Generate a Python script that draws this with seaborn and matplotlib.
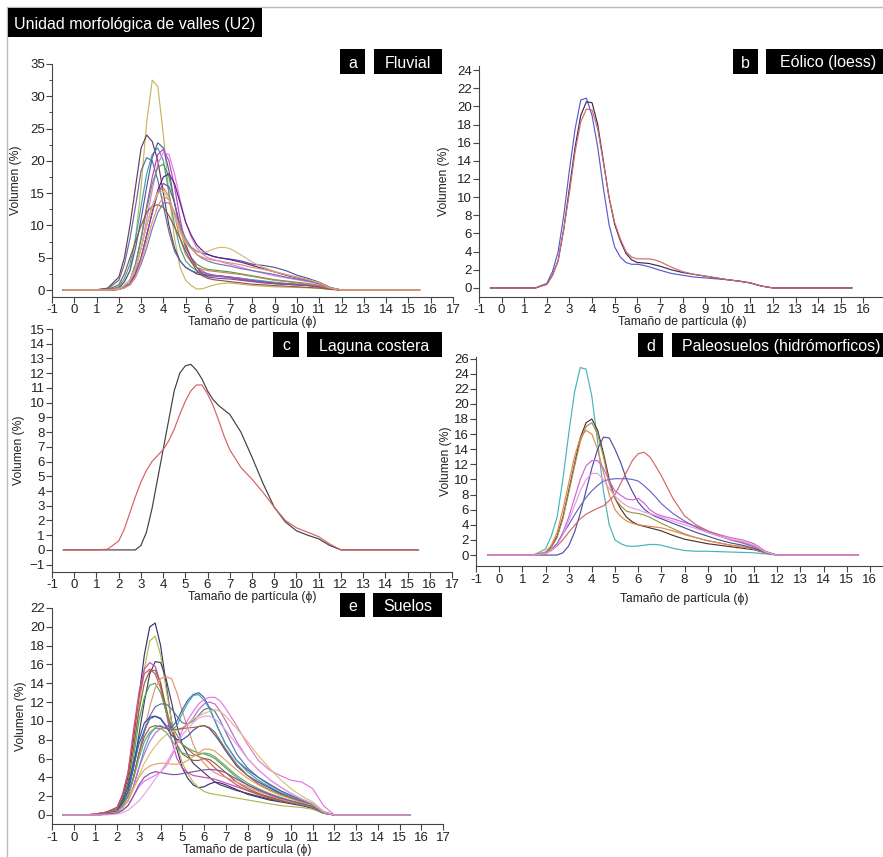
import matplotlib
matplotlib.use("Agg")
import matplotlib.pyplot as plt
from matplotlib.patches import Rectangle
import seaborn as sns

# Grain-size classes (phi) shared by every distribution curve
phi = [-0.5, 0.5, 1, 1.5, 2, 2.25, 2.5, 2.75, 3, 3.25, 3.5, 3.75, 4, 4.25, 4.5, 4.75, 5,
       5.25, 5.5, 5.75, 6, 6.25, 6.5, 6.75, 7, 7.5, 8, 8.5, 9, 9.5, 10, 10.5, 11, 11.5, 12, 15.5]

# a) Fluvial samples, volume (%)
fluvial = [
    [0,0,0,0.05,0.3,1.2,3,8,16,26,32.5,31.5,24,15,8,3.5,1.5,0.7,0.15,0.2,0.5,0.75,0.95,1.05,1.1,0.9,0.7,0.6,0.5,0.45,0.4,0.35,0.3,0.1,0,0],
    [0,0,0.05,0.3,2,5,10,16,22,24,23,20,15,10,6.5,4.5,3.5,3.0,2.5,2.3,2.2,2.2,2.2,2.1,2.0,1.8,1.5,1.3,1.1,1.0,0.9,0.8,0.6,0.2,0,0],
    [0,0,0,0.2,1.5,4,8,13,18.5,20.5,20,17,13,9,6,4.5,3.5,3.0,2.7,2.5,2.3,2.2,2.1,2.0,1.9,1.6,1.4,1.2,1.0,0.9,0.8,0.7,0.5,0.2,0,0],
    [0,0,0,0,0.5,1.8,4,8,13,18,21,22,20,15,10,6.5,4.5,3.6,3,2.7,2.5,2.3,2.2,2.1,2.0,1.8,1.6,1.4,1.2,1.0,0.9,0.8,0.6,0.2,0,0],
    [0,0,0,0,0.3,1.3,3,6.5,11,16,20.5,22.8,22,18.5,13.5,9.5,7.5,6.6,6,5.7,5.5,5.2,5,4.9,4.8,4.5,4,3.8,3.5,3,2.3,1.8,1.2,0.4,0,0],
    [0,0,0,0,0.1,0.6,1.5,4,8,13,17.5,21,21.8,20,16,11,7,4.8,3.5,2.9,2.5,2.3,2.2,2.1,2.0,1.7,1.4,1.2,1.0,0.9,0.8,0.7,0.5,0.2,0,0],
    [0,0,0,0,0.1,0.4,1,3,6.5,11,15.5,19.5,21.3,21,18,14,10.5,8.2,6.5,5.6,5,4.7,4.5,4.2,4,3.5,3,2.6,2.2,1.9,1.6,1.3,0.9,0.3,0,0],
    [0,0,0,0,0.2,0.7,1.5,4,8,12.5,16.5,19,19.5,17.5,13.5,9.5,6.5,5.0,4,3.5,3.2,3.1,3,2.9,2.8,2.5,2.2,1.9,1.6,1.4,1.2,1,0.7,0.2,0,0],
    [0,0,0,0,0.1,0.4,1,2.5,5,8.5,12,15.5,17.5,18,16.5,13.5,10.5,8.5,7,6.1,5.5,5.2,5,4.85,4.7,4.3,3.8,3.3,2.8,2.3,1.9,1.5,1.0,0.3,0,0],
    [0,0,0,0,0.1,0.4,1,2.5,5,8.5,12,15,16.5,16,13.5,10,7,5.0,3.5,2.5,2,1.9,1.8,1.75,1.7,1.5,1.3,1.1,1,0.9,0.8,0.7,0.5,0.2,0,0],
    [0,0,0,0,0.2,0.7,1.5,3.5,6.5,10,13,15.2,15.8,14.5,11.5,8,5.5,4.3,3.5,3.2,3,2.9,2.8,2.7,2.6,2.4,2.1,1.8,1.5,1.3,1.1,0.9,0.7,0.2,0,0],
    [0,0,0,0.1,0.8,2.5,5,7.5,10,12,13,13.2,12.8,11.5,9.8,8,6,4.4,3,2.2,1.8,1.6,1.5,1.4,1.3,1.1,0.9,0.8,0.7,0.6,0.5,0.4,0.3,0.1,0,0],
    [0,0,0,0,0.1,0.35,0.8,2,4,6.5,9.5,12,13.5,13.5,12,10,8,6.6,5.5,4.9,4.5,4.2,4,3.85,3.7,3.3,3,2.7,2.4,2,1.7,1.4,1,0.3,0,0],
    [0,0,0,0,0.2,0.7,1.5,3.5,6.5,10,13,15,15.3,14,11.5,9,7.2,6.4,5.9,5.8,6.0,6.35,6.6,6.6,6.4,5.4,4.3,3.5,2.9,2.4,2,1.6,1.1,0.3,0,0],
    [0,0,0,0,0.1,0.35,0.8,2,4.5,7.5,10.5,13,14.5,14,12,9.5,7.5,6.4,5.5,5.1,4.8,4.6,4.5,4.35,4.2,3.9,3.5,3.2,2.8,2.4,2,1.6,1.1,0.3,0,0],
]

# b) Eolian (loess) samples
eolico = [
    [0,0,0,0,0.5,1.8,4,8,13,17.5,20.7,20.9,19,15.5,11,7,4.5,3.4,2.8,2.6,2.6,2.5,2.35,2.15,1.95,1.6,1.4,1.2,1.1,1.0,0.9,0.75,0.55,0.2,0,0],
    [0,0,0,0,0.4,1.4,3,6.5,11,15.5,19,20.5,20.4,18,14,10,7,5.2,3.8,3.1,2.8,2.75,2.7,2.55,2.4,2,1.7,1.5,1.3,1.1,0.9,0.75,0.55,0.2,0,0],
    [0,0,0,0,0.4,1.4,3,6.5,10.5,15,18.3,19.7,19.6,17.5,13.8,10,7.2,5.4,4,3.4,3.2,3.2,3.2,3.1,2.9,2.3,1.8,1.5,1.3,1.1,0.9,0.75,0.55,0.2,0,0],
]

# c) Coastal lagoon samples
laguna = [
    [0,0,0,0,0,0,0,0,0.3,1.2,2.8,4.8,6.8,8.8,10.8,12,12.5,12.6,12.2,11.6,10.8,10.2,9.8,9.5,9.2,8,6.3,4.5,2.9,1.9,1.3,1.0,0.75,0.3,0,0],
    [0,0,0,0.05,0.6,1.4,2.5,3.6,4.6,5.4,6.0,6.4,6.8,7.4,8.2,9.2,10.1,10.8,11.2,11.2,10.6,9.8,8.8,7.7,6.8,5.6,4.8,3.9,2.9,2.0,1.5,1.2,0.9,0.4,0,0],
]

# d) Hydromorphic paleosol samples
paleosuelos = [
    [0,0,0,0,0.8,2.5,5,10,16,21.5,24.8,24.6,21,15,8.5,4,2,1.5,1.2,1.15,1.2,1.3,1.4,1.4,1.3,0.9,0.6,0.5,0.5,0.45,0.4,0.35,0.3,0.15,0,0],
    [0,0,0,0.05,0.3,1.1,2.5,5,8.5,12,15.5,17.5,18,16.5,13.5,10,7.5,6.1,5,4.4,4,3.8,3.6,3.4,3.2,2.6,2.1,1.8,1.5,1.3,1.1,0.9,0.7,0.3,0,0],
    [0,0,0,0.05,0.3,1.0,2.3,4.8,8.2,11.7,15,17,17.5,16,13,9.5,7.5,6.5,5.8,5.6,5.5,5.3,5,4.6,4.2,3.5,2.8,2.3,1.9,1.6,1.3,1.1,0.8,0.3,0,0],
    [0,0,0,0.05,0.4,1.3,3,6,9.5,13,15.5,16.5,16,14,11,8,6,5.1,4.5,4.2,4,3.9,3.8,3.7,3.6,3.2,2.7,2.3,1.9,1.6,1.3,1.1,0.8,0.3,0,0],
    [0,0,0,0,0,0,0,0.3,1.2,3,5.5,8.5,11.5,14,15.6,15.5,14,12.2,10,8.4,7,6.1,5.5,5.1,4.8,4.2,3.6,3,2.5,2,1.6,1.3,0.9,0.35,0,0],
    [0,0,0,0,0.2,0.7,1.5,3,5,7.5,10,11.8,12.5,12.5,11.5,9.8,8.5,7.9,7.4,7.3,7.5,6.9,6,5.5,5.2,4.8,4.3,3.8,3.2,2.7,2.3,2,1.5,0.5,0,0],
    [0,0,0,0,0.2,0.7,1.5,2.8,4,5.3,6.5,7.6,8.5,9.2,9.8,10,10.1,10.1,10.1,10.0,9.8,9.2,8.5,7.7,6.8,5.5,4.5,3.7,3,2.5,2,1.6,1.1,0.4,0,0],
    [0,0,0,0,0.2,0.6,1.2,2,3,3.9,4.8,5.4,5.8,6.2,6.5,7.2,8,9.5,11,12.5,13.4,13.6,13,11.8,10.5,7.5,5.2,4,3.2,2.6,2,1.7,1.2,0.4,0,0],
    [0,0,0,0,0.2,0.6,1.3,2.7,4.5,6.5,8.5,10,10.8,10.8,10,8.8,7.8,7.1,6.5,6.2,6,5.7,5.5,5.25,5,4.5,4,3.5,3,2.5,2.1,1.8,1.3,0.4,0,0],
]

# e) Soil samples
suelos = [
    [0,0,0.1,0.3,0.8,2,4,8,12.5,17,20,20.4,18,14,10,7,5,3.9,3.2,2.9,3,3.3,3.5,3.4,3.2,2.7,2.2,1.9,1.6,1.4,1.2,1.0,0.7,0.2,0,0],
    [0,0,0.1,0.2,0.6,1.7,3.5,7,11.5,15.5,18.5,19,17,13.5,10,7.5,5.5,4.4,3.5,2.9,2.5,2.3,2.2,2.1,2,1.8,1.6,1.4,1.2,1.0,0.9,0.8,0.6,0.2,0,0],
    [0,0,0,0.1,0.4,1.2,2.5,5,8.5,12,15,16.3,16.2,14.5,12,9.5,7.5,6.4,5.5,5.0,4.5,4.0,3.5,3.2,3,2.6,2.3,2,1.7,1.5,1.3,1.1,0.8,0.2,0,0],
    [0,0,0.1,0.3,0.8,2.2,4.5,9,13,15.5,16.2,15.8,14,11,8,6,5,4.5,4.2,4.1,4,3.9,3.8,3.6,3.4,3,2.6,2.2,1.9,1.6,1.4,1.2,0.9,0.3,0,0],
    [0,0,0.1,0.3,0.8,2.2,4.5,8.5,12.5,15,15.5,15,13.5,11,9,8,7.5,7.0,6.5,6.2,6,5.6,5,4.5,4,3.2,2.6,2.2,1.8,1.5,1.3,1.1,0.8,0.2,0,0],
    [0,0,0,0.2,0.6,1.7,3.5,7,11,14,15.3,15.4,14,11.5,9,7.5,6.5,6.1,5.8,5.8,6,5.9,5.5,5.0,4.5,3.5,2.8,2.3,1.9,1.6,1.3,1.1,0.8,0.2,0,0],
    [0,0,0,0.1,0.5,1.5,3,6,10,12.5,13.8,14,13,11,9.5,8.5,7.5,7.1,6.8,6.6,6.5,6.3,6,5.5,5,4,3.2,2.6,2.1,1.7,1.4,1.1,0.8,0.2,0,0],
    [0,0,0,0.1,0.4,1.0,2,4,6.5,9,11.5,13.5,14.5,14.7,14.5,13,11,9.3,7.5,6.3,5.5,4.9,4.5,4.2,4,3.5,3,2.5,2.1,1.7,1.4,1.2,0.9,0.3,0,0],
    [0,0,0,0.1,0.4,1.2,2.5,5,7.5,9,10.2,10.5,10.3,9.5,9.3,10,11.2,12.2,12.8,13.0,12.5,11.4,10,8.7,7.5,5.8,4.8,4,3.3,2.6,2,1.5,1.1,0.3,0,0],
    [0,0,0,0.1,0.3,0.8,1.5,3,5,7,8.5,9.3,9.5,9.2,9,9.5,10.8,11.9,12.7,12.8,12.2,11.3,10,8.7,7.5,5.8,4.6,3.7,3,2.4,1.9,1.5,1.1,0.3,0,0],
    [0,0,0,0.1,0.2,0.5,1,2,3,3.6,3.9,4.2,4.6,5.2,6.2,7.5,9,10.1,11,11.8,12.3,12.5,12.5,12.1,11.3,9.5,7.5,5.8,4.8,4.2,3.7,3.5,2.8,1.0,0,0],
    [0,0,0,0.1,0.3,0.8,1.5,3,5,6.5,7.8,8.7,9.2,9.3,9.1,9,9.2,9.6,10.3,11.2,11.8,12.0,11.8,11.0,10,7.8,6,4.8,3.8,3,2.3,1.7,1.2,0.3,0,0],
    [0,0,0,0.1,0.3,1.0,2,4,6.5,8.8,10.5,11.5,11.8,11.8,11.3,10.5,9.8,9.7,10,10.6,11.2,11.4,11,10.0,8.8,6.5,5,4,3.2,2.6,2.1,1.6,1.2,0.3,0,0],
    [0,0,0,0.1,0.3,0.8,1.5,2.8,4.2,5.5,6.5,7.3,8,8.5,8.8,9,9.3,9.7,10.2,10.5,10.8,11.0,11.2,11.0,10.5,9.2,7.8,6.3,5,3.8,2.8,2,1.4,0.4,0,0],
    [0,0,0,0.1,0.4,1.5,3,5.5,8,9.8,10.4,10.5,10.2,9.4,8.5,8,8,8.4,9,9.4,9.5,9.2,8.5,7.7,6.8,5.2,4.2,3.5,2.9,2.3,1.8,1.4,1,0.3,0,0],
    [0,0,0,0.1,0.3,1.0,2,4,6.5,8.3,9.3,9.5,9.4,9.2,9.1,9.1,9.2,9.25,9.3,9.4,9.5,9.3,8.8,7.9,7,5.4,4.2,3.3,2.7,2.2,1.8,1.4,1,0.3,0,0],
    [0,0,0,0.1,0.3,1.0,2,3.8,6,7.8,8.8,9.2,9.2,8.8,8,7.2,6.6,6.4,6.3,6.4,6.6,6.5,6.2,5.7,5.2,4.2,3.4,2.8,2.3,1.9,1.5,1.2,0.9,0.3,0,0],
    [0,0,0,0.1,0.3,0.8,1.5,2.8,4,4.8,5.2,5.4,5.5,5.5,5.4,5.4,5.5,5.8,6.2,6.6,7,7.0,6.8,6.3,5.8,4.8,3.9,3.2,2.6,2.1,1.7,1.3,1,0.3,0,0],
    [0,0,0,0.1,0.2,0.5,1,2,3.2,4,4.4,4.6,4.5,4.4,4.3,4.3,4.4,4.5,4.6,4.7,4.8,4.85,4.8,4.7,4.5,3.8,3.2,2.7,2.2,1.8,1.5,1.2,0.9,0.3,0,0],
    [0,0,0,0,0.1,0.25,0.5,1,1.5,2.2,3,3.8,4.6,5.5,6.5,7.5,8.5,9.2,9.8,10.3,10.5,10.5,10.2,9.7,9,7.5,6,4.8,3.8,3,2.3,1.7,1.2,0.3,0,0],
]

x_ticks = list(range(-1, 18))
title = "Unidad morfológica de valles (U2)"
xlabel = "Tamaño de partícula (ϕ)"
ylabel = "Volumen (%)"

# ---- line colours for each panel ----
col_a = ["#c9b55e", "#6b3a5c", "#5b6f9e", "#3fa3a3", "#4a5bab", "#c03fc0", "#e27ae2",
         "#4f9f4f", "#5e2384", "#8a46a8", "#c98352", "#8c5c40", "#6a7bb3", "#d9b77a", "#e29375"]
col_b = ["#5a5ad0", "#3a2a4a", "#d46a6a"]
col_c = ["#404040", "#d86060"]
col_d = ["#45b5b5", "#553232", "#a39245", "#e0884a", "#4e4ea2", "#d462d4", "#6868c8", "#d46565", "#e59ae5"]
col_e = ["#33336f", "#b6b652", "#424262", "#d244c4", "#d45454", "#8d6242", "#55a555", "#e39474",
         "#4263b3", "#42a4b4", "#e674e6", "#c466d4", "#6272a2", "#d4c472", "#3352a2", "#a36442",
         "#72a472", "#e4a464", "#8452a4", "#e4a4e4"]

W, H = 883, 857
sns.set_theme(style="ticks")
plt.rcParams["font.family"] = ["Liberation Sans", "DejaVu Sans"]
plt.rcParams["axes.edgecolor"] = "#444444"
plt.rcParams["xtick.color"] = "#444444"
plt.rcParams["ytick.color"] = "#444444"
plt.rcParams["lines.solid_joinstyle"] = "round"

fig = plt.figure(figsize=(W / 100, H / 100), dpi=100)
fig.patch.set_facecolor("white")


def px_axes(x0, x1, top, bottom):
    return fig.add_axes([x0 / W, 1 - bottom / H, (x1 - x0) / W, (bottom - top) / H])


def black_box(x0, y0, x1, y1, text, size):
    fig.patches.append(Rectangle((x0 / W, 1 - y1 / H), (x1 - x0) / W, (y1 - y0) / H,
                                 transform=fig.transFigure, facecolor="black",
                                 edgecolor="none", zorder=5))
    fig.text((x0 + x1) / 2 / W, 1 - (y0 + y1) / 2 / H, text, color="white",
             fontsize=size, ha="center", va="center_baseline", zorder=6)


def panel(box, ylim, yticks, curves, colors, ylab_x, xlab_pad, minor=None, last_label=True):
    x0, x1, top, bottom = box
    ax = px_axes(x0, x1, top, bottom)
    ax.set_facecolor("none")
    for vals, c in zip(curves, colors):
        sns.lineplot(x=phi, y=vals, color=c, lw=0.85, ax=ax, legend=False)
    ax.set_xlim(-1, 17)
    ax.set_ylim(*ylim)
    ax.set_xticks(x_ticks)
    labels = [str(t) for t in x_ticks]
    if not last_label:
        labels[-1] = ""
    ax.set_xticklabels(labels)
    ax.set_yticks(yticks)
    if minor is not None:
        ax.set_yticks(minor, minor=True)
        ax.tick_params(axis="y", which="minor", length=2.5, width=0.7, direction="out")
    ax.tick_params(axis="both", which="major", length=4, width=0.8, direction="out",
                   labelsize=9.5, pad=1.2, labelcolor="#222222")
    for s in ("top", "right"):
        ax.spines[s].set_visible(False)
    for s in ("left", "bottom"):
        ax.spines[s].set_linewidth(0.8)
    ax.set_xlabel(xlabel, fontsize=8.7, labelpad=xlab_pad, color="#222222")
    ax.set_ylabel(ylabel, fontsize=8.7, color="#222222")
    ax.yaxis.set_label_coords((ylab_x - x0) / (x1 - x0), 0.5)
    return ax


panel((52, 453, 64, 296.5), (-1, 35), list(range(0, 36, 5)), fluvial, col_a, 22, 0,
      minor=[2.5 + 5 * i for i in range(7)])
panel((479, 886, 65.5, 297), (-1, 24.5), list(range(0, 25, 2)), eolico, col_b, 450, 0,
      last_label=False)
panel((52, 452, 329, 572), (-1.5, 15), list(range(-1, 16)), laguna, col_c, 25, 0)
panel((476, 893, 357, 566.4), (-1.5, 26.2), list(range(0, 27, 2)), paleosuelos, col_d, 452, 5,
      last_label=False)
panel((52, 443, 608, 824.4), (-1, 22), list(range(0, 23, 2)), suelos, col_e, 27, 0)

# figure frame
fig.add_artist(plt.Line2D([7 / W, 1], [1 - 7 / H, 1 - 7 / H], transform=fig.transFigure,
                          color="#bbbbbb", lw=1))
fig.add_artist(plt.Line2D([7 / W, 7 / W], [0, 1 - 7 / H], transform=fig.transFigure,
                          color="#bbbbbb", lw=1))

black_box(8, 8, 262, 37, title, 11.5)
black_box(340, 49, 365, 74, "a", 11.5)
black_box(374, 49, 442, 74, "Fluvial", 11.5)
black_box(733, 49, 758, 74, "b", 11.5)
black_box(766, 49, 890, 74, "Eólico (loess)", 11.5)
black_box(273, 332, 299, 357, "c", 11.5)
black_box(307, 332, 442, 357, "Laguna costera", 11.5)
black_box(638, 333, 663, 357, "d", 11.5)
black_box(672, 333, 890, 357, "Paleosuelos (hidrómorficos)", 11.5)
black_box(340, 593, 365, 617, "e", 11.5)
black_box(373, 593, 442, 617, "Suelos", 11.5)

fig.savefig("out.png", dpi=100, facecolor="white")
